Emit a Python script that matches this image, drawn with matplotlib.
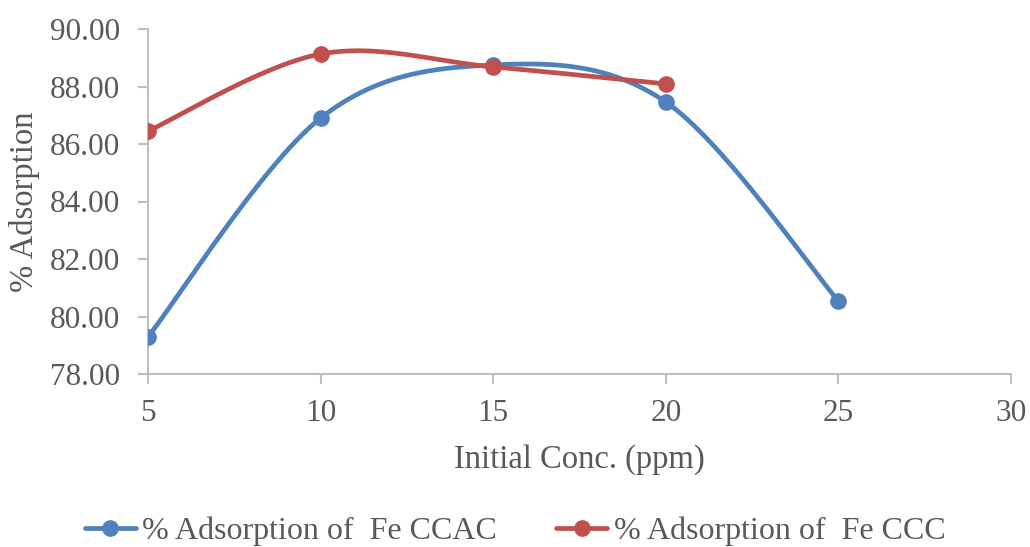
import numpy as np
import matplotlib
matplotlib.use("Agg")
from matplotlib import pyplot as plt

plt.rcParams["font.family"] = ["Liberation Serif", "DejaVu Serif"]

# initial concentration (ppm) and % adsorption for both adsorbents
conc_ccac = [5, 10, 15, 20, 25]
ads_ccac = [79.29, 86.90, 88.75, 87.46, 80.54]
conc_ccc = [5, 10, 15, 20]
ads_ccc = [86.45, 89.13, 88.68, 88.09]

x_ticks = [5, 10, 15, 20, 25, 30]
y_ticks = [78, 80, 82, 84, 86, 88, 90]

TEXT = "#595959"
AXIS = "#BFBFBF"
BLUE = "#4F81BD"
RED = "#C0504D"


def smooth(xs, ys, n=60):
    """Bezier curve through the points, like a spreadsheet 'smoothed line'."""
    p = np.column_stack([xs, ys]).astype(float)
    ext = np.vstack([p[0], p, p[-1]])
    out = []
    t = np.linspace(0, 1, n)[:, None]
    for i in range(len(p) - 1):
        p0, p3 = p[i], p[i + 1]
        c1 = p0 + (ext[i + 2] - ext[i]) / 6
        c2 = p3 - (ext[i + 3] - ext[i + 1]) / 6
        seg = ((1 - t) ** 3) * p0 + 3 * ((1 - t) ** 2) * t * c1 + 3 * (1 - t) * t ** 2 * c2 + t ** 3 * p3
        out.append(seg)
    curve = np.vstack(out)
    return curve[:, 0], curve[:, 1]


fig = plt.figure(figsize=(10.30, 5.47), dpi=100)
ax = fig.add_axes([148 / 1030, 1 - 374 / 547, (1011 - 148) / 1030, (374 - 29) / 547])

for xs, ys, col, lab in [
    (conc_ccac, ads_ccac, BLUE, "% Adsorption of  Fe CCAC"),
    (conc_ccc, ads_ccc, RED, "% Adsorption of  Fe CCC"),
]:
    sx, sy = smooth(xs, ys)
    ax.plot(sx, sy, color=col, lw=3.4, solid_capstyle="round", zorder=2)
    ax.plot(xs, ys, "o", color=col, ms=11, zorder=3)
    ax.plot([], [], "-o", color=col, lw=3.4, ms=11, solid_capstyle="round", label=lab)

ax.set_xlim(5, 30)
ax.set_ylim(78, 90)
ax.set_xticks(x_ticks)
ax.set_yticks(y_ticks)
ax.set_yticklabels([f"{v:.2f}" for v in y_ticks])

for side in ["top", "right"]:
    ax.spines[side].set_visible(False)
for side in ["left", "bottom"]:
    ax.spines[side].set_color(AXIS)
    ax.spines[side].set_linewidth(1.5)
ax.tick_params(colors=AXIS, labelcolor=TEXT, labelsize=22.5, length=7, width=1.5, direction="out")
ax.tick_params(axis="x", pad=11)
ax.tick_params(axis="y", pad=13)

ax.set_xlabel("Initial Conc. (ppm)", fontsize=23.5, color=TEXT, va="center")
ax.xaxis.set_label_coords(0.5, (374 - 460) / 345)
ax.set_ylabel("% Adsorption", fontsize=23.5, color=TEXT, va="center")
ax.yaxis.set_label_coords((25 - 148) / 863, 0.5)

fig.legend(loc="center", bbox_to_anchor=(0.5, 1 - 531 / 547), ncol=2, frameon=False,
           fontsize=23, labelcolor=TEXT, handlelength=1.6, handletextpad=0.2, columnspacing=1.85)

fig.savefig("out.png", dpi=100)
